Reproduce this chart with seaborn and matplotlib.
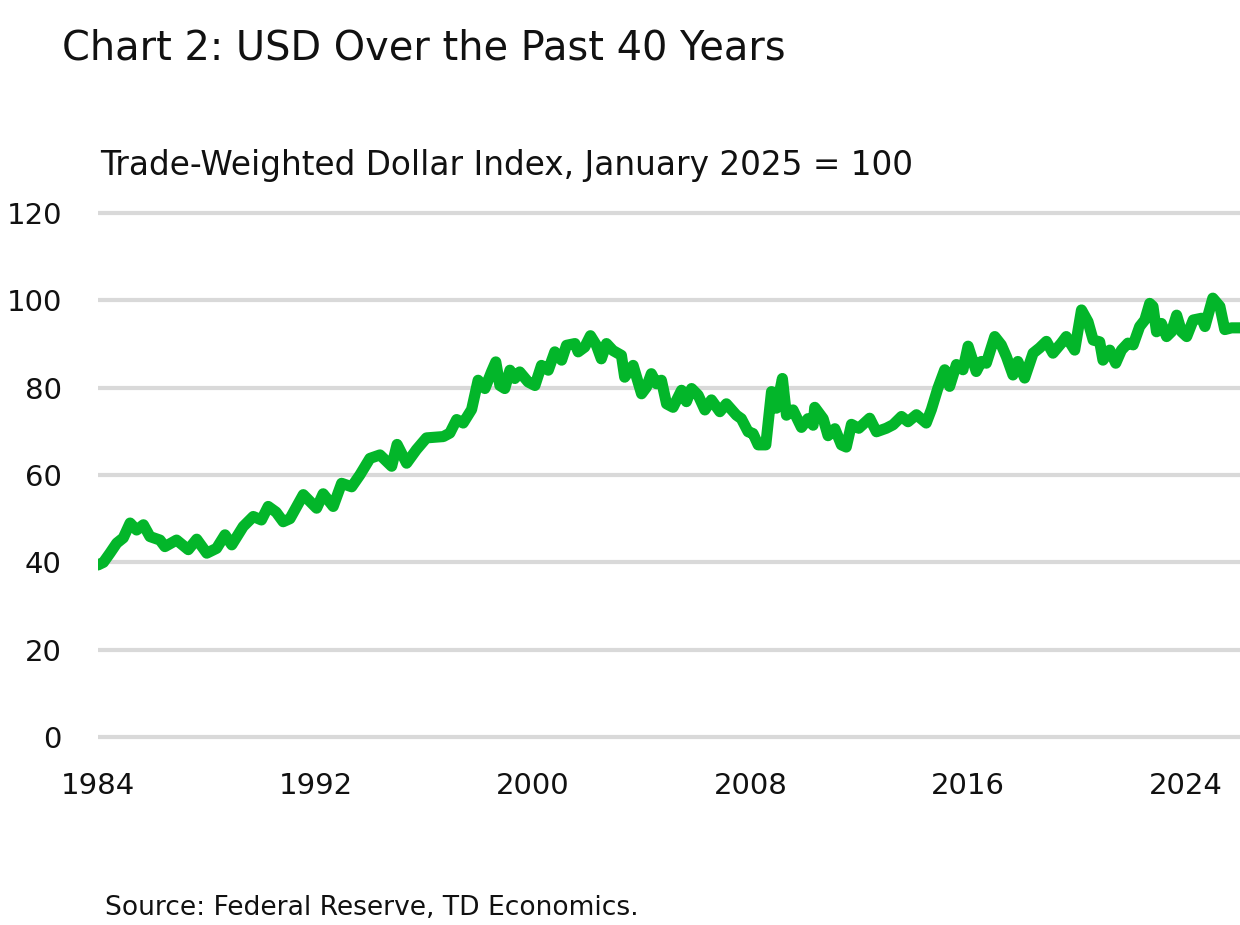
import matplotlib
matplotlib.use('Agg')
import matplotlib.pyplot as plt
import seaborn as sns
import pandas as pd

sns.set_style('white')
plt.rcParams['font.family'] = ['DejaVu Sans']

# Trade-weighted dollar index (turning points)
years = [
    1984.0, 1984.2, 1984.44, 1984.69, 1984.93, 1985.18, 1985.42, 1985.67, 1985.91,
    1986.28, 1986.46, 1986.89, 1987.32, 1987.63, 1988.0, 1988.36, 1988.67, 1988.92,
    1989.34, 1989.71, 1990.01, 1990.26, 1990.55, 1990.81, 1991.06, 1991.55, 1992.04,
    1992.28, 1992.65, 1992.96, 1993.33, 1993.63, 1994.0, 1994.37, 1994.8, 1995.0,
    1995.35, 1995.71, 1996.08, 1996.7, 1996.94, 1997.19, 1997.43, 1997.74, 1997.98,
    1998.23, 1998.47, 1998.63, 1998.78, 1998.96, 1999.15, 1999.33, 1999.51, 1999.82,
    2000.07, 2000.31, 2000.56, 2000.8, 2001.05, 2001.23, 2001.54, 2001.66, 2001.9,
    2002.11, 2002.33, 2002.51, 2002.7, 2002.94, 2003.25, 2003.37, 2003.68, 2003.99,
    2004.17, 2004.35, 2004.54, 2004.72, 2004.91, 2005.15, 2005.46, 2005.64, 2005.83,
    2006.07, 2006.32, 2006.56, 2006.87, 2007.11, 2007.48, 2007.66, 2007.91, 2008.09,
    2008.28, 2008.56, 2008.77, 2008.95, 2009.17, 2009.32, 2009.56, 2009.87, 2010.11,
    2010.3, 2010.36, 2010.67, 2010.85, 2011.1, 2011.34, 2011.52, 2011.71, 2011.98,
    2012.38, 2012.63, 2012.99, 2013.24, 2013.55, 2013.79, 2014.1, 2014.46, 2014.65,
    2014.89, 2015.14, 2015.32, 2015.57, 2015.81, 2016.0, 2016.3, 2016.49, 2016.67,
    2016.98, 2017.22, 2017.41, 2017.65, 2017.83, 2018.08, 2018.39, 2018.63, 2018.88,
    2019.12, 2019.43, 2019.61, 2019.92, 2020.17, 2020.41, 2020.6, 2020.84, 2020.96,
    2021.21, 2021.43, 2021.64, 2021.88, 2022.07, 2022.31, 2022.5, 2022.68, 2022.8,
    2022.93, 2023.11, 2023.3, 2023.48, 2023.67, 2023.85, 2024.04, 2024.28, 2024.59,
    2024.71, 2025.0, 2025.26, 2025.44, 2025.69, 2026.0,
]
index_values = [
    39.4, 40.0, 42.1, 44.4, 45.6, 49.0, 47.4, 48.6, 45.9,
    45.1, 43.6, 45.1, 42.9, 45.3, 42.1, 43.2, 46.3, 44.0,
    48.2, 50.5, 49.7, 52.8, 51.5, 49.3, 50.0, 55.5, 52.4,
    55.7, 52.8, 58.1, 57.3, 60.0, 63.8, 64.6, 62.0, 67.0,
    62.7, 65.8, 68.5, 68.8, 69.6, 72.7, 71.9, 75.0, 81.7,
    79.8, 83.6, 85.9, 80.5, 79.8, 84.0, 82.1, 83.6, 81.3,
    80.5, 85.1, 84.0, 88.2, 86.3, 89.7, 90.1, 88.2, 89.3,
    91.9, 89.7, 86.6, 90.1, 88.5, 87.4, 82.4, 85.1, 78.6,
    80.1, 83.2, 80.9, 81.7, 76.3, 75.5, 79.4, 76.8, 79.8,
    78.3, 74.9, 77.2, 74.5, 76.3, 73.7, 72.9, 69.9, 69.5,
    66.9, 66.9, 79.1, 75.3, 82.1, 73.7, 74.9, 70.9, 72.9,
    71.4, 75.5, 72.9, 69.0, 70.6, 66.9, 66.4, 71.6, 70.7,
    73.0, 69.9, 70.7, 71.5, 73.4, 72.2, 73.8, 71.9, 75.0,
    79.9, 84.1, 80.3, 85.3, 84.1, 89.5, 83.7, 86.0, 85.6,
    91.7, 89.8, 87.1, 82.9, 86.0, 82.2, 87.9, 89.1, 90.6,
    87.9, 90.2, 91.7, 88.6, 97.8, 95.1, 90.9, 90.5, 86.3,
    88.6, 85.6, 88.6, 90.2, 89.8, 94.0, 95.5, 99.3, 98.6,
    92.8, 94.7, 91.7, 92.8, 96.6, 92.8, 91.7, 95.5, 95.9,
    94.0, 100.5, 98.6, 93.3, 93.7, 93.7,
]
x_ticks = [1984, 1992, 2000, 2008, 2016, 2024]
y_ticks = [0, 20, 40, 60, 80, 100, 120]

df = pd.DataFrame({'year': years, 'index': index_values})

fig = plt.figure(figsize=(12.4, 9.25), dpi=100)
ax = fig.add_axes([98 / 1240, 1 - 737 / 925, 1 - 98 / 1240, (737 - 213) / 925])

for y in y_ticks:
    ax.axhline(y, color='#D9D9D9', linewidth=3, zorder=0, clip_on=False,
               solid_capstyle='butt')

sns.lineplot(data=df, x='year', y='index', ax=ax, color='#03B62A',
             linewidth=8, solid_joinstyle='round', solid_capstyle='round',
             zorder=3)

ax.set_xlim(1984, 2026)
ax.set_ylim(0, 120)
ax.set_xticks(x_ticks)
ax.set_yticks(y_ticks)
ax.tick_params(axis='both', length=0, labelsize=21, colors='#111111')
ax.tick_params(axis='x', pad=25)
ax.tick_params(axis='y', pad=26)
ax.set_xlabel('')
ax.set_ylabel('')
for side in ax.spines.values():
    side.set_visible(False)
ax.set_facecolor('none')


def fit_text(x0, x1, yc, s, size):
    # place text and scale font so it spans x0..x1 pixels like the reference
    t = fig.text(x0 / 1240, 1 - yc / 925, s, fontsize=size,
                 va='center', ha='left', color='#111111')
    r = fig.canvas.get_renderer()
    w = t.get_window_extent(renderer=r).width
    t.set_fontsize(size * (x1 - x0) / w)
    return t


fit_text(62, 785, 48, 'Chart 2: USD Over the Past 40 Years', 22)
fit_text(100, 912, 166, 'Trade-Weighted Dollar Index, January 2025 = 100', 20)
fit_text(105, 640, 908, 'Source: Federal Reserve, TD Economics.', 15)

fig.savefig('out.png', dpi=100)
